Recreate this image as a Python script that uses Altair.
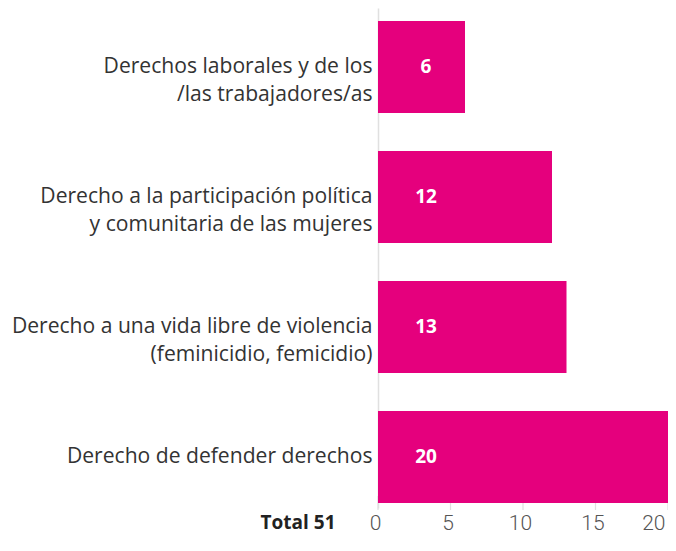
import altair as alt
import pandas as pd

categorias = [
    "Derechos laborales y de los|/las trabajadores/as",
    "Derecho a la participación política|y comunitaria de las mujeres",
    "Derecho a una vida libre de violencia|(feminicidio, femicidio)",
    "Derecho de defender derechos",
]
valores = [6, 12, 13, 20]
ticks = [0, 5, 10, 15, 20]
total_label = "Total 51"

df = pd.DataFrame({"cat": categorias, "val": valores})
df_ticks = pd.DataFrame({"t": ticks})

W, H = 290, 500
COLOR = "#E5007D"
FONT = "Open Sans"

xscale = alt.Scale(domain=[0, 20], nice=False)
yscale = alt.Scale(paddingInner=0.2923, paddingOuter=0.0692, align=0.722)

bars = alt.Chart(df).mark_bar(color=COLOR).encode(
    x=alt.X("val:Q", scale=xscale,
            axis=alt.Axis(values=ticks, grid=False, domain=False, ticks=False,
                          labelFont="Roboto", labelFontSize=21, labelColor="#555",
                          labelFontWeight=300, labelPadding=4, labelOffset=-3,
                          labelAlign=alt.ExprRef(expr="datum.value == 20 ? 'right' : 'center'"),
                          title=total_label, titleFont=FONT, titleFontSize=19,
                          titleFontWeight="bold", titleColor="#222",
                          titleAnchor="start", titleAlign="right",
                          titleX=-43, titleY=20, titleBaseline="alphabetic")),
    y=alt.Y("cat:N", sort=None, scale=yscale,
            axis=alt.Axis(title=None, ticks=False, domain=True, domainColor="#e0e0e0",
                          domainWidth=1.5, labelFont=FONT, labelFontSize=21.1,
                          labelColor="#333", labelPadding=6, labelLimit=400,
                          labelLineHeight=28,
                          labelExpr="split(datum.label, '|')")),
)

texts = alt.Chart(df).mark_text(color="white", fontWeight="bold", font=FONT,
                                fontSize=19, align="center", baseline="middle").encode(
    y=alt.Y("cat:N", sort=None, scale=yscale),
    x=alt.value(48),
    text="val:Q",
)

tickrules = alt.Chart(df_ticks).mark_rule(color="#e0e0e0", strokeWidth=1.2).encode(
    x=alt.X("t:Q", scale=xscale),
    y=alt.value(H - 12),
    y2=alt.value(H + 2),
)

chart = alt.layer(tickrules, bars, texts).properties(
    width=W, height=H,
    autosize=alt.AutoSizeParams(type="none"),
    padding={"left": 370, "top": 0, "right": 0, "bottom": 30},
).configure_view(stroke=None)

chart.save("out.html", embed_options={"renderer": "svg", "actions": False})
